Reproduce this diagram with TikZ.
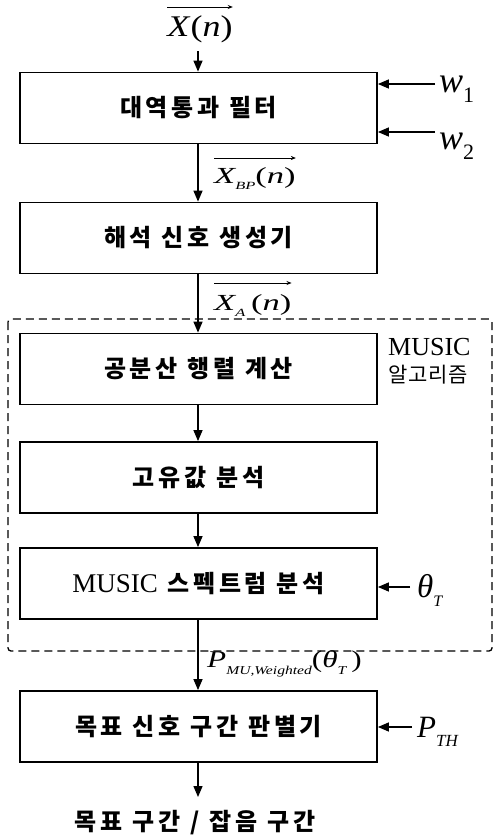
\RequirePackage{fix-cm}
\documentclass[tikz,border=0pt]{standalone}
\usepackage{graphicx}
\usepackage{fontspec}
\setmainfont{Liberation Serif}
\newfontfamily\kr{Noto Sans CJK KR}[LetterSpace=15,WordSpace=1.1]
\newfontfamily\krr{Noto Sans CJK KR}[LetterSpace=4]
\newcommand{\sub}[2]{\raisebox{-0.3em}{\fontsize{#1}{#1}\selectfont #2}}
\usetikzlibrary{arrows.meta}
\begin{document}
\begin{tikzpicture}[x=1pt,y=-1pt,
  blk/.style={draw,line width=1.8pt,minimum width=357pt,minimum height=71pt,inner sep=0pt,
    font=\kr\bfseries\fontsize{24}{27}\selectfont},
  arr/.style={line width=1.4pt,-{Triangle[length=11pt,width=9pt]}},
  ovarr/.style={line width=0.8pt,-{Stealth[length=5pt,width=4pt]}},
  lab/.style={inner sep=0pt}]
\useasboundingbox (0,0) rectangle (495,838);
% dashed MUSIC frame
\draw[line width=1.3pt,dash pattern=on 8pt off 5pt,rounded corners=3pt] (8,319) rectangle (492,651);
\node[anchor=base west,inner sep=0pt,font=\fontsize{26}{30}\selectfont] (ml1) at (388,355) {MUSIC};
\node[anchor=base west,inner sep=0pt,font=\krr\fontsize{21}{25}\selectfont] (ml2) at (388,382) {알고리즘};
% blocks
\node[blk] (b1) at (198.5,108) {대역통과 필터};
\node[blk] (b2) at (198.5,238) {해석 신호 생성기};
\node[blk] (b3) at (198.5,369) {공분산 행렬 계산};
\node[blk] (b4) at (198.5,477.5) {고유값 분석};
\node[blk] (b5) at (198.5,583.5) {{\fontspec{Liberation Serif}\mdseries\fontsize{27}{30}\selectfont MUSIC} 스펙트럼 분석};
\node[blk] (b6) at (198.5,726.5) {목표 신호 구간 판별기};
\node[inner sep=0pt,font=\kr\bfseries\fontsize{24}{27}\selectfont] (out) at (195,823) {목표 구간 / 잡음 구간};
% input signal
\node[lab,anchor=base,font=\fontsize{30}{34}\selectfont] (xin) at (200,36) {\scalebox{1.2}[1]{\itshape X\/\upshape(\itshape n\/\upshape)}};
\coordinate (ya) at (0,7);
\draw[ovarr] (xin.west |- ya) -- (xin.east |- ya);
\coordinate (xs) at (198,51);
\draw[arr] (xs) -- (xs |- b1.north);
% vertical connectors
\draw[arr] (b1.south -| xs) -- (b2.north -| xs);
\draw[arr] (b2.south -| xs) -- (b3.north -| xs);
\draw[arr] (b3.south -| xs) -- (b4.north -| xs);
\draw[arr] (b4.south -| xs) -- (b5.north -| xs);
\draw[arr] (b5.south -| xs) -- (b6.north -| xs);
\coordinate (oe) at (198,797);
\draw[arr] (b6.south -| xs) -- (oe);
% signal labels
\node[lab,anchor=base west,font=\fontsize{23}{26}\selectfont] (xbp) at (214,183) {\scalebox{1.5}[1]{\itshape X\sub{11}{BP}\upshape(\itshape n\/\upshape)}};
\coordinate (yb) at (0,158);
\draw[ovarr] (xbp.west |- yb) -- (xbp.east |- yb);
\node[lab,anchor=base west,font=\fontsize{23}{26}\selectfont] (xa) at (214,310) {\scalebox{1.5}[1]{\itshape X\sub{11}{A}\,\upshape(\itshape n\/\upshape)}};
\coordinate (yc) at (0,283);
\draw[ovarr] (xa.west |- yc) -- (xa.east |- yc);
\node[lab,anchor=base west,font=\fontsize{24}{27}\selectfont] (pmu) at (207,667) {\scalebox{1.3}[1]{\itshape P\sub{12}{MU,Weighted}\upshape(\itshape θ\sub{12}{T}\upshape\,)}};
% side inputs
\coordinate (w1s) at (435,84);
\node[lab,anchor=base west,font=\fontsize{36}{42}\selectfont] (w1) at (439,92) {\itshape w\upshape\sub{22}{1}};
\draw[arr] (w1s) -- (w1s -| b1.east);
\coordinate (w2s) at (435,132);
\node[lab,anchor=base west,font=\fontsize{36}{42}\selectfont] (w2) at (439,149) {\itshape w\upshape\sub{22}{2}};
\draw[arr] (w2s) -- (w2s -| b1.east);
\coordinate (ts) at (410,587);
\node[lab,anchor=base west,font=\fontsize{33}{36}\selectfont] (th) at (417,597) {\itshape θ\sub{16}{T}};
\draw[arr] (ts) -- (ts -| b5.east);
\coordinate (ps) at (412,727);
\node[lab,anchor=base west,font=\fontsize{31}{36}\selectfont] (pth) at (417,737) {\itshape P\sub{17}{TH}};
\draw[arr] (ps) -- (ps -| b6.east);
\end{tikzpicture}
\end{document}
